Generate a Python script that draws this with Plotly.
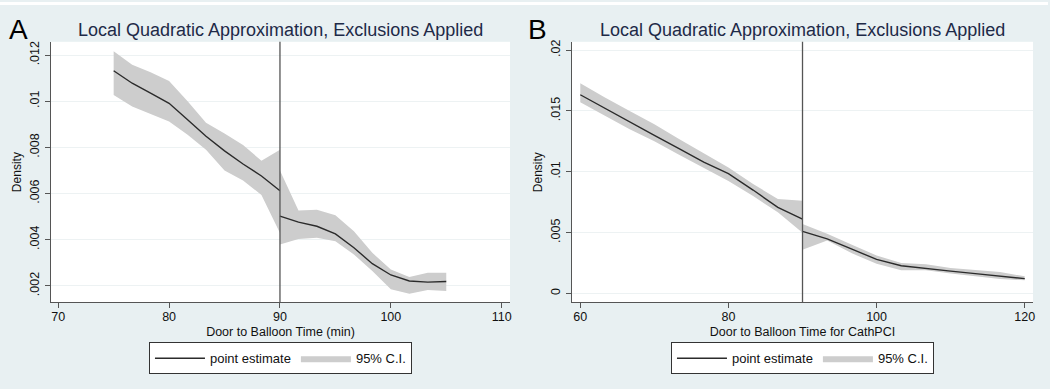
import plotly.graph_objects as go

# ---------------- Data ----------------
# Panel A: Door to Balloon Time (min)
a_left_x = [75, 76.67, 78.33, 80, 81.67, 83.33, 85, 86.67, 88.33, 90]
a_left_est = [0.01132, 0.01078, 0.01035, 0.00991, 0.0092, 0.00848, 0.00785, 0.00728, 0.00676, 0.00612]
a_left_hi = [0.01217, 0.01158, 0.01125, 0.01088, 0.0100, 0.00907, 0.0086, 0.0081, 0.00742, 0.0079]
a_left_lo = [0.01027, 0.00977, 0.00945, 0.00912, 0.00855, 0.0079, 0.0070, 0.00656, 0.00594, 0.00429]

a_right_x = [90, 91.67, 93.33, 95, 96.67, 98.33, 100, 101.67, 103.33, 105]
a_right_est = [0.00502, 0.00476, 0.00458, 0.00425, 0.00365, 0.00296, 0.00247, 0.00221, 0.00216, 0.00219]
a_right_hi = [0.0070, 0.00526, 0.0053, 0.00506, 0.00437, 0.00343, 0.00271, 0.00238, 0.00257, 0.00257]
a_right_lo = [0.00379, 0.00403, 0.00408, 0.00393, 0.00336, 0.00264, 0.00185, 0.00166, 0.00182, 0.00178]

a_xticks = [70, 80, 90, 100, 110]
a_yticks = [0.002, 0.004, 0.006, 0.008, 0.010, 0.012]
a_yticklabels = [".002", ".004", ".006", ".008", ".01", ".012"]

# Panel B: Door to Balloon Time for CathPCI
b_left_x = [60, 63.33, 66.67, 70, 73.33, 76.67, 80, 83.33, 86.67, 90]
b_left_est = [0.01633, 0.0152, 0.0141, 0.0130, 0.0119, 0.0108, 0.00985, 0.0085, 0.00707, 0.00612]
b_left_hi = [0.01727, 0.0161, 0.0150, 0.0139, 0.0127, 0.0115, 0.01035, 0.0090, 0.00776, 0.00762]
b_left_lo = [0.01572, 0.0146, 0.0135, 0.01251, 0.0114, 0.0103, 0.00925, 0.0080, 0.00667, 0.0050]

b_right_x = [90, 93.33, 96.67, 100, 103.33, 106.67, 110, 113.33, 116.67, 120]
b_right_est = [0.00511, 0.00449, 0.00365, 0.0028, 0.00228, 0.00204, 0.00184, 0.00163, 0.00143, 0.00122]
b_right_hi = [0.00571, 0.0049, 0.0040, 0.00313, 0.0025, 0.0024, 0.0021, 0.0019, 0.00176, 0.00141]
b_right_lo = [0.00359, 0.00435, 0.0033, 0.00245, 0.0019, 0.0019, 0.00165, 0.0014, 0.0012, 0.00108]

b_xticks = [60, 80, 100, 120]
b_yticks = [0, 0.005, 0.010, 0.015, 0.020]
b_yticklabels = ["0", ".005", ".01", ".015", ".02"]

cutoff = 90
title_text = "Local Quadratic Approximation, Exclusions Applied"

# ---------------- Styling ----------------
W, H = 1050, 389
BG = "#E8F0F2"
CI_COLOR = "#CDCDCD"
LINE_COLOR = "#2b2b2b"
AXIS_COLOR = "#555555"
GRID_COLOR = "#EDF2F3"
TEXT_COLOR = "#111111"
TITLE_COLOR = "#1E2A48"
FONT = "Liberation Sans, Arial, sans-serif"

fig = go.Figure()


def add_panel(xa, ya, legend_name, segments):
    first = True
    for sx, est, hi, lo in segments:
        poly_x = list(sx) + list(sx)[::-1]
        poly_y = list(hi) + list(lo)[::-1]
        fig.add_trace(go.Scatter(
            x=poly_x, y=poly_y, xaxis=xa, yaxis=ya, mode="lines",
            fill="toself", fillcolor=CI_COLOR, line=dict(width=0, color=CI_COLOR),
            name="95% C.I.", legend=legend_name, showlegend=first,
            legendrank=2, hoverinfo="skip"))
        fig.add_trace(go.Scatter(
            x=sx, y=est, xaxis=xa, yaxis=ya, mode="lines",
            line=dict(color=LINE_COLOR, width=1.4),
            name="point estimate", legend=legend_name, showlegend=first,
            legendrank=1))
        first = False


add_panel("x", "y", "legend", [
    (a_left_x, a_left_est, a_left_hi, a_left_lo),
    (a_right_x, a_right_est, a_right_hi, a_right_lo),
])
add_panel("x2", "y2", "legend2", [
    (b_left_x, b_left_est, b_left_hi, b_left_lo),
    (b_right_x, b_right_est, b_right_hi, b_right_lo),
])

# plot-area geometry in pixels
A_L, A_R = 51, 511
B_L, B_R = 573, 1035
TOP, BOT = 40, 302

axis_common = dict(
    showline=True, linecolor=AXIS_COLOR, linewidth=1,
    ticks="outside", ticklen=5, tickcolor=AXIS_COLOR, tickwidth=1,
    tickfont=dict(size=12.5, color=TEXT_COLOR, family=FONT),
    zeroline=False, mirror=False,
)

x_common = dict(showgrid=False, ticklabelstandoff=-2, **axis_common)
y_common = dict(tickangle=-90, ticklabelstandoff=1, showgrid=True,
                gridcolor=GRID_COLOR, gridwidth=1, **axis_common)

legend_common = dict(y=1 - 342 / H, xanchor="center", yanchor="top",
                     orientation="h", bgcolor="white", bordercolor="#333333",
                     borderwidth=1, font=dict(size=13, color=TEXT_COLOR),
                     itemwidth=50, traceorder="normal")

fig.update_layout(
    width=W, height=H,
    margin=dict(l=0, r=0, t=0, b=0),
    paper_bgcolor=BG, plot_bgcolor="white",
    font=dict(family=FONT, color=TEXT_COLOR),
    xaxis=dict(domain=[A_L / W, A_R / W], anchor="y", range=[69.34, 110.75],
               tickvals=a_xticks,
               title=dict(text="Door to Balloon Time (min)", font=dict(size=12.5), standoff=3),
               **x_common),
    yaxis=dict(domain=[1 - BOT / H, 1 - TOP / H], anchor="x", range=[0.00128, 0.012575],
               tickvals=a_yticks, ticktext=a_yticklabels,
               title=dict(text="Density", font=dict(size=12), standoff=3),
               **y_common),
    xaxis2=dict(domain=[B_L / W, B_R / W], anchor="y2", range=[58.87, 121.12],
                tickvals=b_xticks,
                title=dict(text="Door to Balloon Time for CathPCI", font=dict(size=12.5), standoff=3),
                **x_common),
    yaxis2=dict(domain=[1 - BOT / H, 1 - TOP / H], anchor="x2", range=[-0.000735, 0.02068],
                tickvals=b_yticks, ticktext=b_yticklabels,
                title=dict(text="Density", font=dict(size=12), standoff=3),
                **y_common),
    legend=dict(x=(A_L + A_R) / 2 / W, **legend_common),
    legend2=dict(x=(B_L + B_R) / 2 / W, **legend_common),
    showlegend=True,
)

# cutoff lines
for xr, yr in (("x", "y domain"), ("x2", "y2 domain")):
    fig.add_shape(type="line", xref=xr, yref=yr, x0=cutoff, x1=cutoff, y0=0, y1=1,
                  line=dict(color=AXIS_COLOR, width=1.3), layer="above")

# white strip at very top
fig.add_shape(type="rect", xref="paper", yref="paper", x0=0, x1=1, y0=1 - 3 / H, y1=1,
              fillcolor="white", line=dict(width=0), layer="below")

# titles and panel letters
for cx, letter, lx in (((A_L + A_R) / 2, "A", 7), ((B_L + B_R) / 2, "B", 527)):
    fig.add_annotation(text=title_text, x=cx / W, y=1 - 28 / H, xref="paper", yref="paper",
                       xanchor="center", yanchor="middle", showarrow=False,
                       font=dict(size=18, color=TITLE_COLOR, family=FONT))
    fig.add_annotation(text=letter, x=lx / W, y=1 - 28 / H, xref="paper", yref="paper",
                       xanchor="left", yanchor="middle", showarrow=False,
                       font=dict(size=28, color="#000000", family=FONT))

fig.write_html("out.html", config={"displayModeBar": False},
               post_script="document.body.style.margin='0';document.body.style.overflow='hidden';")
